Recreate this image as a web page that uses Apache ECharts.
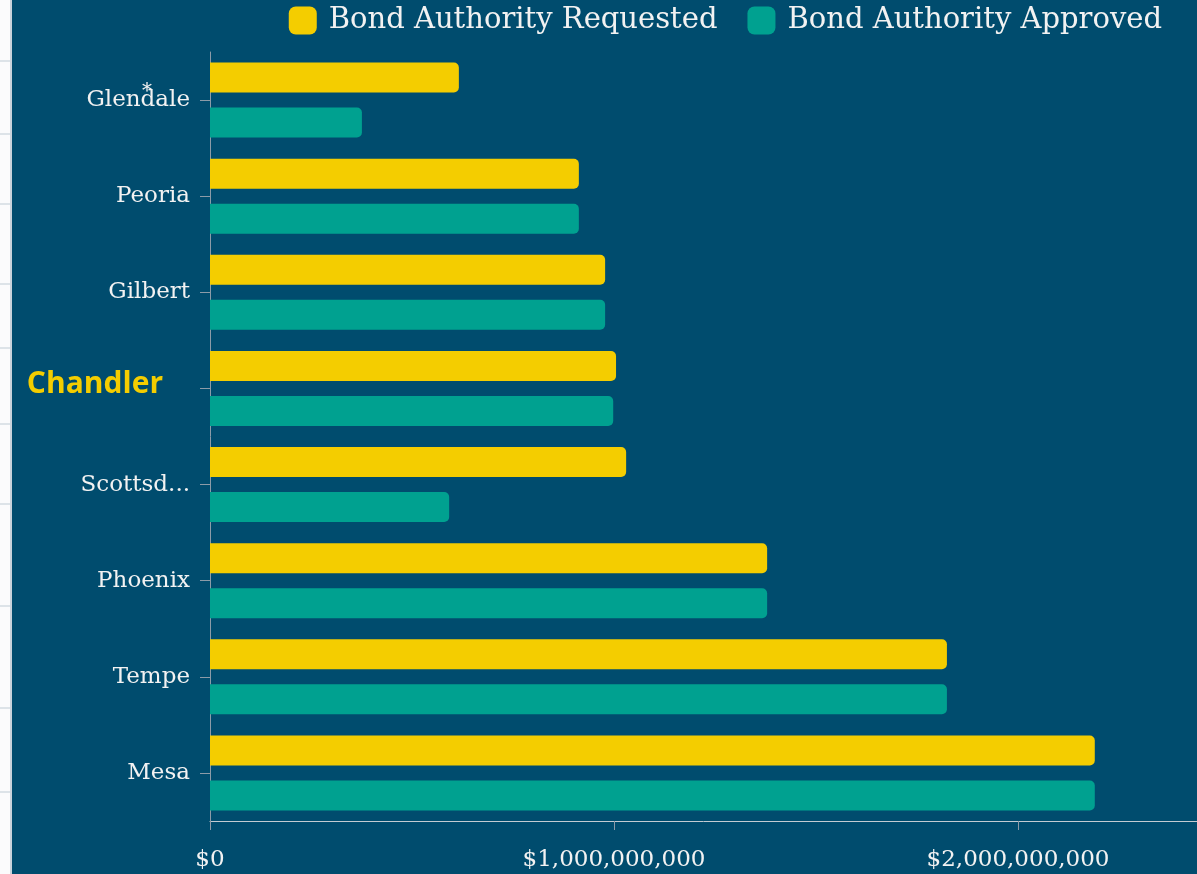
<!DOCTYPE html>
<html>
<head>
<meta charset="utf-8">
<script src="https://cdn.jsdelivr.net/npm/echarts@6/dist/echarts.min.js"></script>
<style>
  html, body { margin: 0; padding: 0; background: #004c6e; }
  #chart { width: 1197px; height: 874px; }
</style>
</head>
<body>
<div id="chart"></div>
<script>
// cities, top to bottom
const cities = ['Glendale', 'Peoria', 'Gilbert', 'Chandler', 'Scottsdale', 'Phoenix', 'Tempe', 'Mesa']
const requested = [616e6, 913e6, 978e6, 1005e6, 1030e6, 1379e6, 1824e6, 2190e6]
const approved = [376e6, 913e6, 978e6, 998e6, 592e6, 1379e6, 1824e6, 2190e6]
const seriesNames = ['Bond Authority Requested', 'Bond Authority Approved']
const highlighted = 'Chandler'

const serif = '"DejaVu Serif", serif'
const yellow = '#f4cd00'
const teal = '#00a190'

const chart = echarts.init(document.getElementById('chart'))

// light strip of the neighbouring page on the far left
const stripLines = [60, 133, 203, 283, 347, 423, 503, 605, 707, 791]
const stripGraphics = [
  { type: 'rect', shape: { x: 0, y: 0, width: 11, height: 874 }, style: { fill: '#fbfbfc' }, silent: true },
  { type: 'rect', shape: { x: 10, y: 0, width: 2, height: 874 }, style: { fill: '#c9d3db' }, silent: true },
].concat(stripLines.map(y => ({
  type: 'rect', shape: { x: 0, y: y, width: 10, height: 2 }, style: { fill: '#dde3e8' }, silent: true,
})))

const option = {
  backgroundColor: '#004c6e',
  animation: false,
  legend: {
    top: 1,
    right: 30,
    itemWidth: 28,
    itemHeight: 28,
    itemGap: 30,
    icon: 'roundRect',
    textStyle: { color: '#f2f2f2', fontFamily: serif, fontSize: 29, padding: [4, 0, 0, 7] },
    data: seriesNames,
  },
  grid: {
    left: 210,
    right: 0,
    top: 52,
    bottom: 53,
    containLabel: false,
  },
  xAxis: {
    type: 'value',
    min: 0,
    max: 2.443e9,
    interval: 1e9,
    splitLine: { show: false },
    axisLine: { show: true, lineStyle: { color: '#c3cbd2', width: 1 } },
    axisTick: { show: true, length: 9, lineStyle: { color: '#8c9ba8' } },
    axisLabel: {
      color: '#f2f2f2',
      fontFamily: serif,
      fontSize: 23,
      margin: 28,
      showMaxLabel: false,
      formatter: v => '$' + v.toLocaleString('en-US'),
    },
  },
  yAxis: {
    type: 'category',
    inverse: true,
    data: cities,
    axisLine: { show: true, lineStyle: { color: '#8c9ba8', width: 1 } },
    axisTick: { show: true, alignWithLabel: true, length: 10, lineStyle: { color: '#8c9ba8' } },
    axisLabel: {
      color: '#f2f2f2',
      fontFamily: serif,
      fontSize: 23,
      margin: 20,
      formatter: name => {
        if (name === highlighted) return '{hl|' + name + '}'
        if (name.length > 9) return name.slice(0, 7) + '...'
        return name
      },
      rich: {
        hl: {
          color: yellow,
          fontFamily: '"Open Sans", sans-serif',
          fontWeight: 'bold',
          fontSize: 30,
          padding: [0, 27, 8, 0],
        },
      },
    },
  },
  series: [
    {
      name: seriesNames[0],
      type: 'bar',
      data: requested,
      barWidth: 30,
      barGap: '50%',
      itemStyle: { color: yellow, borderRadius: [0, 5, 5, 0] },
    },
    {
      name: seriesNames[1],
      type: 'bar',
      data: approved,
      barWidth: 30,
      barGap: '50%',
      itemStyle: { color: teal, borderRadius: [0, 5, 5, 0] },
    },
  ],
  graphic: stripGraphics.concat([
    {
      type: 'text',
      x: 147,
      y: 92,
      silent: true,
      style: {
        text: '*',
        fill: '#f2f2f2',
        fontFamily: serif,
        fontSize: 20,
        align: 'center',
        verticalAlign: 'middle',
      },
    },
  ]),
}

chart.setOption(option)
</script>
</body>
</html>
